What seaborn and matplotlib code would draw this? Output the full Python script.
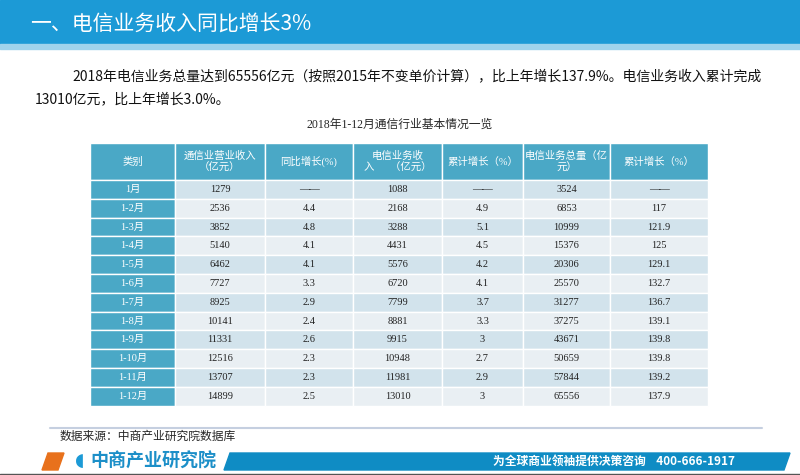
import matplotlib
matplotlib.use("Agg")
import matplotlib.pyplot as plt
from matplotlib.patches import Rectangle, Polygon
import seaborn as sns

sns.set_style("white")
plt.rcParams["font.family"] = "Noto Sans CJK SC"
SERIF = ["Liberation Serif", "Noto Sans CJK SC"]

title = "一、电信业务收入同比增长3%"
para1 = "2018年电信业务总量达到65556亿元（按照2015年不变单价计算），比上年增长137.9%。电信业务收入累计完成"
para2 = "13010亿元，比上年增长3.0%。"
table_title = "2018年1-12月通信行业基本情况一览"
headers = ["类别", "通信业营业收入\n（亿元）", "同比增长(%)", "电信业务收\n入　  （亿元）",
           "累计增长（%）", "电信业务总量（亿\n元）", "累计增长（%）"]
months = ["1月", "1-2月", "1-3月", "1-4月", "1-5月", "1-6月", "1-7月", "1-8月",
          "1-9月", "1-10月", "1-11月", "1-12月"]
comm_revenue = ["1279", "2536", "3852", "5140", "6462", "7727", "8925", "10141",
                "11331", "12516", "13707", "14899"]
comm_yoy = ["——", "4.4", "4.8", "4.1", "4.1", "3.3", "2.9", "2.4", "2.6", "2.3", "2.3", "2.5"]
tel_revenue = ["1088", "2168", "3288", "4431", "5576", "6720", "7799", "8881",
               "9915", "10948", "11981", "13010"]
tel_rev_growth = ["——", "4.9", "5.1", "4.5", "4.2", "4.1", "3.7", "3.3", "3", "2.7", "2.9", "3"]
tel_volume = ["3524", "6853", "10999", "15376", "20306", "25570", "31277", "37275",
              "43671", "50659", "57844", "65556"]
vol_growth = ["——", "117", "121.9", "125", "129.1", "132.7", "136.7", "139.1",
              "139.8", "139.8", "139.2", "137.9"]
source = "数据来源：中商产业研究院数据库"

fig = plt.figure(figsize=(8, 4.75), dpi=100)
ax = fig.add_axes([0, 0, 1, 1])
ax.set_xlim(0, 800)
ax.set_ylim(475, 0)
ax.axis("off")

# header bar
ax.add_patch(Rectangle((0, 0), 800, 44, color="#1c9ad6"))
ax.add_patch(Rectangle((0, 44), 800, 5, color="#9fd3ec"))
ax.text(30, 24, title, color="white", fontsize=15, va="center")

ax.text(72, 76, para1, fontsize=10, va="center", color="#111111")
ax.text(35, 99, para2, fontsize=10, va="center", color="#111111")
ax.text(400, 125, table_title, fontsize=8.5, ha="center", va="center", family=SERIF)

# table
xs = [90, 175, 265, 353, 442, 523, 610, 708]
top, head_h, row_h = 143, 37, 18.8
for j in range(7):
    ax.add_patch(Rectangle((xs[j], top), xs[j + 1] - xs[j], head_h, facecolor="#4aa8c6",
                           edgecolor="white", lw=1))
    ax.text((xs[j] + xs[j + 1]) / 2, top + head_h / 2, headers[j], color="white",
            fontsize=7.5, ha="center", va="center", linespacing=1.2, family=SERIF)
cols = [months, comm_revenue, comm_yoy, tel_revenue, tel_rev_growth, tel_volume, vol_growth]
for i in range(len(months)):
    y = top + head_h + i * row_h
    for j in range(7):
        if j == 0:
            fc, tc = "#4aa8c6", "white"
        else:
            fc, tc = ("#d2e3ec" if i % 2 == 0 else "#e9eff3"), "#222222"
        ax.add_patch(Rectangle((xs[j], y), xs[j + 1] - xs[j], row_h, facecolor=fc,
                               edgecolor="white", lw=1))
        ax.text((xs[j] + xs[j + 1]) / 2, y + row_h / 2, cols[j][i], color=tc,
                fontsize=7.5, ha="center", va="center", family=SERIF)

# footer
ax.plot([50, 762], [428, 428], color="#c5cfe0", lw=1.5)
ax.text(60, 437, source, fontsize=8.5, va="center", family=SERIF)
ax.add_patch(Polygon([(48, 453), (64, 453), (58, 470), (42, 470)], color="#e8711c"))
ax.text(80, 461, "◖", color="#1c9ad6", fontsize=13, va="center", ha="center",
        family="DejaVu Sans")
ax.text(90, 461, "中商产业研究院", color="#1c8fc8", fontsize=13, va="center", weight="bold")
ax.add_patch(Polygon([(230, 453), (790, 453), (784, 470), (224, 470)], color="#0f8cc4"))
ax.text(735, 461, "为全球商业领袖提供决策咨询    400-666-1917", color="white",
        fontsize=8.5, ha="right", va="center", weight="bold")
ax.plot([0, 800], [474, 474], color="#555555", lw=1)

fig.savefig("out.png", dpi=100)
